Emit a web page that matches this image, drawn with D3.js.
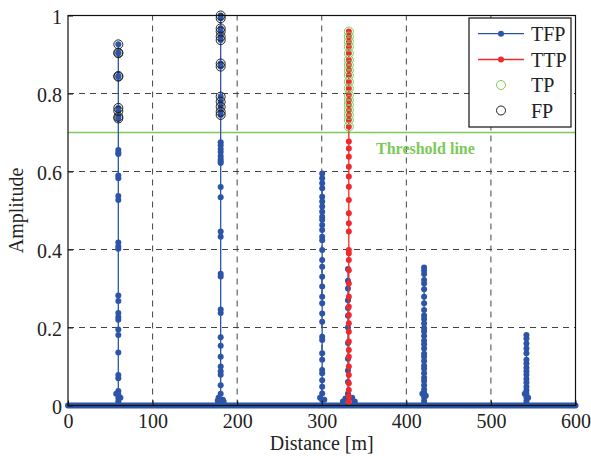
<!DOCTYPE html>
<html lang="en">
<head>
  <meta charset="UTF-8">
  <title>Amplitude vs distance</title>
  <script src="https://d3js.org/d3.v7.min.js"></script>
  <style>
    body { margin: 0; background: #fff; }
    svg text { font-family: 'Liberation Serif', 'Times New Roman', serif !important; }
  </style>
</head>
<body>
<script>
  // Threshold and axis ticks
  const threshold = 0.7;
  const xTicks = [0, 100, 200, 300, 400, 500, 600];
  const yTicks = [0, 0.2, 0.4, 0.6, 0.8, 1];
  const yTickLabels = ["0", "0.2", "0.4", "0.6", "0.8", "1"];

  // zero-level samples along the whole sweep (dense, drawn as a band)
  const baseDist = [0, 600];

  // TFP peaks: distance of each column and the amplitudes
  const peakDist = [59.5, 180.5, 300.5, 331, 421, 542];
  const peak1Amp = [0.01, 0.019, 0.028, 0.037, 0.07, 0.078, 0.136, 0.181, 0.195, 0.22, 0.227, 0.237,
    0.268, 0.282, 0.402, 0.408, 0.418, 0.527, 0.537, 0.583, 0.59, 0.645, 0.648, 0.655,
    0.736, 0.74, 0.755, 0.763, 0.843, 0.845, 0.903, 0.905, 0.926];
  const peak2Amp = [0.015, 0.03, 0.052, 0.079, 0.088, 0.1, 0.125, 0.153, 0.175, 0.237, 0.246, 0.331,
    0.338, 0.433, 0.446, 0.534, 0.56, 0.622, 0.626, 0.632, 0.64, 0.65, 0.658, 0.667, 0.675,
    0.745, 0.753, 0.766, 0.779, 0.792, 0.869, 0.877, 0.937, 0.946, 0.959, 0.967, 0.993, 1.0];
  const peak3Amp = [0.014, 0.031, 0.048, 0.065, 0.083, 0.091, 0.117, 0.134, 0.168, 0.176, 0.215,
    0.236, 0.262, 0.279, 0.305, 0.33, 0.356, 0.373, 0.399, 0.424, 0.433, 0.45, 0.463, 0.476,
    0.484, 0.497, 0.51, 0.523, 0.535, 0.557, 0.57, 0.583, 0.595];
  const peak4Amp = [0.03, 0.06, 0.09, 0.12, 0.16, 0.2, 0.23, 0.25, 0.27, 0.3, 0.32, 0.35];
  const peak5Amp = [0.005, 0.012, 0.022, 0.033, 0.041, 0.052, 0.063, 0.071, 0.083, 0.094, 0.102,
    0.114, 0.125, 0.133, 0.146, 0.157, 0.166, 0.178, 0.19, 0.198, 0.21, 0.222, 0.231, 0.245,
    0.262, 0.279, 0.298, 0.313, 0.322, 0.337, 0.346, 0.354];
  const peak6Amp = [0.005, 0.012, 0.021, 0.03, 0.039, 0.048, 0.059, 0.068, 0.079, 0.088, 0.097,
    0.108, 0.117, 0.134, 0.146, 0.159, 0.172, 0.181];

  // low shoulders beside the peaks
  const shoulderDist = [57, 62, 177, 178, 183, 184, 298, 303, 325, 328, 336, 339, 419, 423, 540, 544];
  const shoulderAmp = [0.03, 0.02, 0.012, 0.02, 0.015, 0.01, 0.02, 0.015, 0.01, 0.018, 0.02, 0.01,
    0.03, 0.025, 0.03, 0.02];

  // TTP column
  const ttpDist = 332;
  const ttpAmp = [0.01, 0.023, 0.04, 0.057, 0.078, 0.1, 0.125, 0.142, 0.164, 0.189, 0.211, 0.232,
    0.253, 0.279, 0.313, 0.347, 0.373, 0.39, 0.399, 0.446, 0.467, 0.493, 0.527, 0.561, 0.587,
    0.612, 0.638, 0.659, 0.677, 0.715, 0.732, 0.745, 0.758, 0.771, 0.783, 0.796, 0.813, 0.83,
    0.847, 0.86, 0.873, 0.886, 0.903, 0.92, 0.933, 0.946, 0.959];

  const legendNames = ["TFP", "TTP", "TP", "FP"];

  const blue = "#2c55a8", red = "#ee2a2e", green = "#7cc95a";
  const serif = "'Liberation Serif', 'Times New Roman', serif";

  const width = 591, height = 456;
  const margin = { top: 15.5, right: 15.5, bottom: 50.5, left: 68 };

  const svg = d3.select("body").append("svg")
    .attr("width", width)
    .attr("height", height);

  const x = d3.scaleLinear().domain([0, 600]).range([margin.left, width - margin.right]);
  const y = d3.scaleLinear().domain([0, 1]).range([height - margin.bottom, margin.top]);

  // grid
  svg.append("g").selectAll("line")
    .data(xTicks.slice(1, -1))
    .enter().append("line")
    .attr("x1", d => x(d)).attr("x2", d => x(d))
    .attr("y1", y(0)).attr("y2", y(1))
    .attr("stroke", "#444").attr("stroke-dasharray", "6,5");
  svg.append("g").selectAll("line")
    .data(yTicks.slice(1, -1))
    .enter().append("line")
    .attr("x1", x(0)).attr("x2", x(600))
    .attr("y1", d => y(d)).attr("y2", d => y(d))
    .attr("stroke", "#444").attr("stroke-dasharray", "6,5");

  // threshold line
  svg.append("line")
    .attr("x1", x(0)).attr("x2", x(600))
    .attr("y1", y(threshold)).attr("y2", y(threshold))
    .attr("stroke", green).attr("stroke-width", 1.3);

  // build TFP points
  const peaks = [peak1Amp, peak2Amp, peak3Amp, peak4Amp, peak5Amp, peak6Amp];
  const tfp = [];
  peaks.forEach((amps, i) => amps.forEach(a => tfp.push({ d: peakDist[i], a: a })));
  shoulderDist.forEach((d, i) => tfp.push({ d: d, a: shoulderAmp[i] }));
  const ttp = ttpAmp.map(a => ({ d: ttpDist, a: a }));

  const line = d3.line().x(p => x(p.d)).y(p => y(p.a));

  // TFP: zero band, peak lines, dots
  svg.append("path")
    .attr("d", line(baseDist.map(d => ({ d: d, a: 0 }))))
    .attr("stroke", blue).attr("stroke-width", 6).attr("stroke-linecap", "round").attr("fill", "none");

  peaks.forEach((amps, i) => {
    svg.append("path")
      .attr("d", line([{ d: peakDist[i], a: 0 }].concat(amps.map(a => ({ d: peakDist[i], a: a })))))
      .attr("stroke", blue).attr("stroke-width", 1.3).attr("fill", "none");
  });

  svg.append("g").selectAll("circle")
    .data(tfp)
    .enter().append("circle")
    .attr("cx", p => x(p.d)).attr("cy", p => y(p.a))
    .attr("r", 3).attr("fill", blue);

  // TTP
  svg.append("path")
    .attr("d", line([{ d: ttpDist, a: 0 }].concat(ttp)))
    .attr("stroke", red).attr("stroke-width", 1.3).attr("fill", "none");
  svg.append("g").selectAll("circle")
    .data(ttp)
    .enter().append("circle")
    .attr("cx", p => x(p.d)).attr("cy", p => y(p.a))
    .attr("r", 3).attr("fill", red);

  // TP / FP: points over the threshold
  svg.append("g").selectAll("circle")
    .data(ttp.filter(p => p.a > threshold))
    .enter().append("circle")
    .attr("cx", p => x(p.d)).attr("cy", p => y(p.a))
    .attr("r", 4.5).attr("fill", "none").attr("stroke", green).attr("stroke-width", 1);
  svg.append("g").selectAll("circle")
    .data(tfp.filter(p => p.a > threshold))
    .enter().append("circle")
    .attr("cx", p => x(p.d)).attr("cy", p => y(p.a))
    .attr("r", 4.5).attr("fill", "none").attr("stroke", "#222").attr("stroke-width", 1);

  // axes box
  svg.append("rect")
    .attr("x", x(0)).attr("y", y(1))
    .attr("width", x(600) - x(0)).attr("height", y(0) - y(1))
    .attr("fill", "none").attr("stroke", "#111").attr("stroke-width", 1.2);

  const xAxis = svg.append("g")
    .attr("transform", `translate(0,${y(0)})`)
    .call(d3.axisBottom(x).tickValues(xTicks).tickSize(-5).tickPadding(8).tickFormat(d3.format("d")));
  const yAxis = svg.append("g")
    .attr("transform", `translate(${x(0)},0)`)
    .call(d3.axisLeft(y).tickValues(yTicks).tickSize(-5).tickPadding(6).tickFormat((d, i) => yTickLabels[i]));
  [xAxis, yAxis].forEach(g => {
    g.attr("font-family", null).attr("font-size", null);
    g.select(".domain").remove();
    g.selectAll(".tick line").attr("stroke", "#111");
    g.selectAll("text").style("font-size", "20px").style("font-family", serif).attr("fill", "#222");
  });
  yAxis.selectAll("text").attr("dy", "0.4em");

  // labels
  svg.append("text")
    .attr("x", (x(0) + x(600)) / 2).attr("y", 450)
    .attr("text-anchor", "middle").style("font-size", "20px").style("font-family", serif).attr("fill", "#222")
    .text("Distance [m]");
  svg.append("text")
    .attr("transform", `translate(23,${(y(0) + y(1)) / 2}) rotate(-90)`)
    .attr("text-anchor", "middle").style("font-size", "20px").style("font-family", serif).attr("fill", "#222")
    .text("Amplitude");

  svg.append("text")
    .attr("x", 376).attr("y", 154)
    .style("font-size", "16px").style("font-family", serif).attr("font-weight", "bold")
    .attr("fill", green)
    .text("Threshold line");

  // legend
  const legend = svg.append("g");
  legend.append("rect")
    .attr("x", 469).attr("y", 18).attr("width", 102).attr("height", 109)
    .attr("fill", "#fff").attr("stroke", "#111").attr("stroke-width", 1.2);
  const rowY = [33.7, 59.5, 85, 110.5];
  legendNames.forEach((name, i) => {
    const g = legend.append("g").attr("transform", `translate(0,${rowY[i]})`);
    if (i < 2) {
      g.append("line").attr("x1", 478).attr("x2", 524)
        .attr("stroke", i === 0 ? blue : red).attr("stroke-width", 1.3);
      g.append("circle").attr("cx", 501).attr("r", 3).attr("fill", i === 0 ? blue : red);
    } else {
      g.append("circle").attr("cx", 501).attr("r", 4.5).attr("fill", "none")
        .attr("stroke", i === 2 ? green : "#222");
    }
    g.append("text").attr("x", 531).attr("dy", "0.35em")
      .style("font-size", "20px").style("font-family", serif).attr("fill", "#222").text(name);
  });
</script>
</body>
</html>
